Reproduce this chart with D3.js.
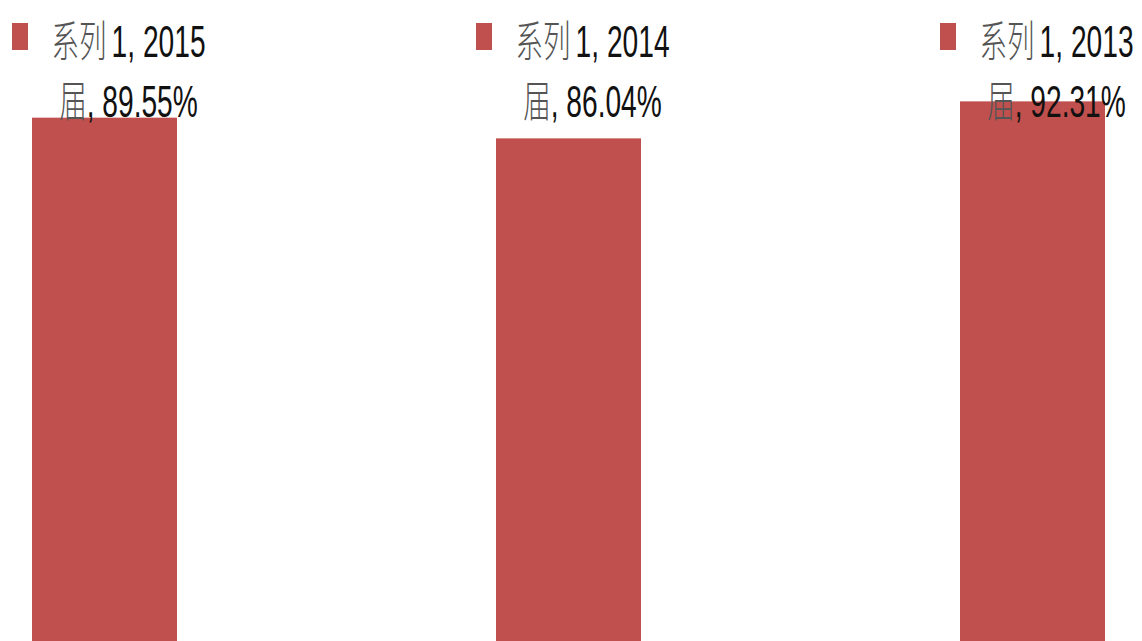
<!DOCTYPE html>
<html><head><meta charset="utf-8">
<script src="https://cdn.jsdelivr.net/npm/d3@7/dist/d3.min.js"></script>
<style>html,body{margin:0;padding:0;background:#fff;overflow:hidden}</style>
</head><body>
<svg id="c" width="1142" height="641"></svg>
<script>
const categories = ["2015届", "2014届", "2013届"];
const years = ["2015", "2014", "2013"];
const values = [89.55, 86.04, 92.31];
const seriesName = "系列1";

const svg = d3.select("#c");
const x = d3.scaleBand().domain(categories).range([-127.5, 1264.5]).paddingInner(0.6875).paddingOuter(0.34375);
const y = d3.scaleLinear().domain([0, 100]).range([646, 56]);
const color = "#C0504D";

svg.selectAll("rect.bar").data(values).join("rect").attr("class", "bar")
  .attr("x", (d, i) => x(categories[i]))
  .attr("width", x.bandwidth())
  .attr("y", d => y(d))
  .attr("height", d => y(0) - y(d))
  .attr("fill", color);

const lab = svg.selectAll("g.lab").data(values).join("g").attr("class", "lab");
lab.append("rect")
  .attr("x", (d, i) => x(categories[i]) - 20)
  .attr("y", 23).attr("width", 16).attr("height", 27)
  .attr("fill", color);

lab.each(function (d, i) {
  const g = d3.select(this);
  const cx = x(categories[i]) + x.bandwidth() / 2 + 24;
  const mk = (yy) => g.append("text")
    .attr("transform", `translate(${cx},${yy}) scale(0.64,1)`)
    .attr("text-anchor", "middle")
    .attr("font-family", "'Liberation Sans', sans-serif")
    .attr("font-size", 44);
  const t1 = mk(57);
  t1.append("tspan").text(seriesName.slice(0, 2)).attr("fill", "#555")
    .attr("font-family", "'Noto Sans CJK SC', sans-serif").attr("font-weight", 300)
    .attr("font-size", 43);
  t1.append("tspan").attr("dx", 8).text(seriesName.slice(2) + ", " + years[i]).attr("fill", "#111");
  const t2 = mk(117);
  t2.append("tspan").text("届").attr("fill", "#555")
    .attr("font-family", "'Noto Sans CJK SC', sans-serif").attr("font-weight", 300)
    .attr("font-size", 43);
  t2.append("tspan").text(", " + d3.format(".2f")(d) + "%").attr("fill", "#111");
});
</script>
</body></html>
